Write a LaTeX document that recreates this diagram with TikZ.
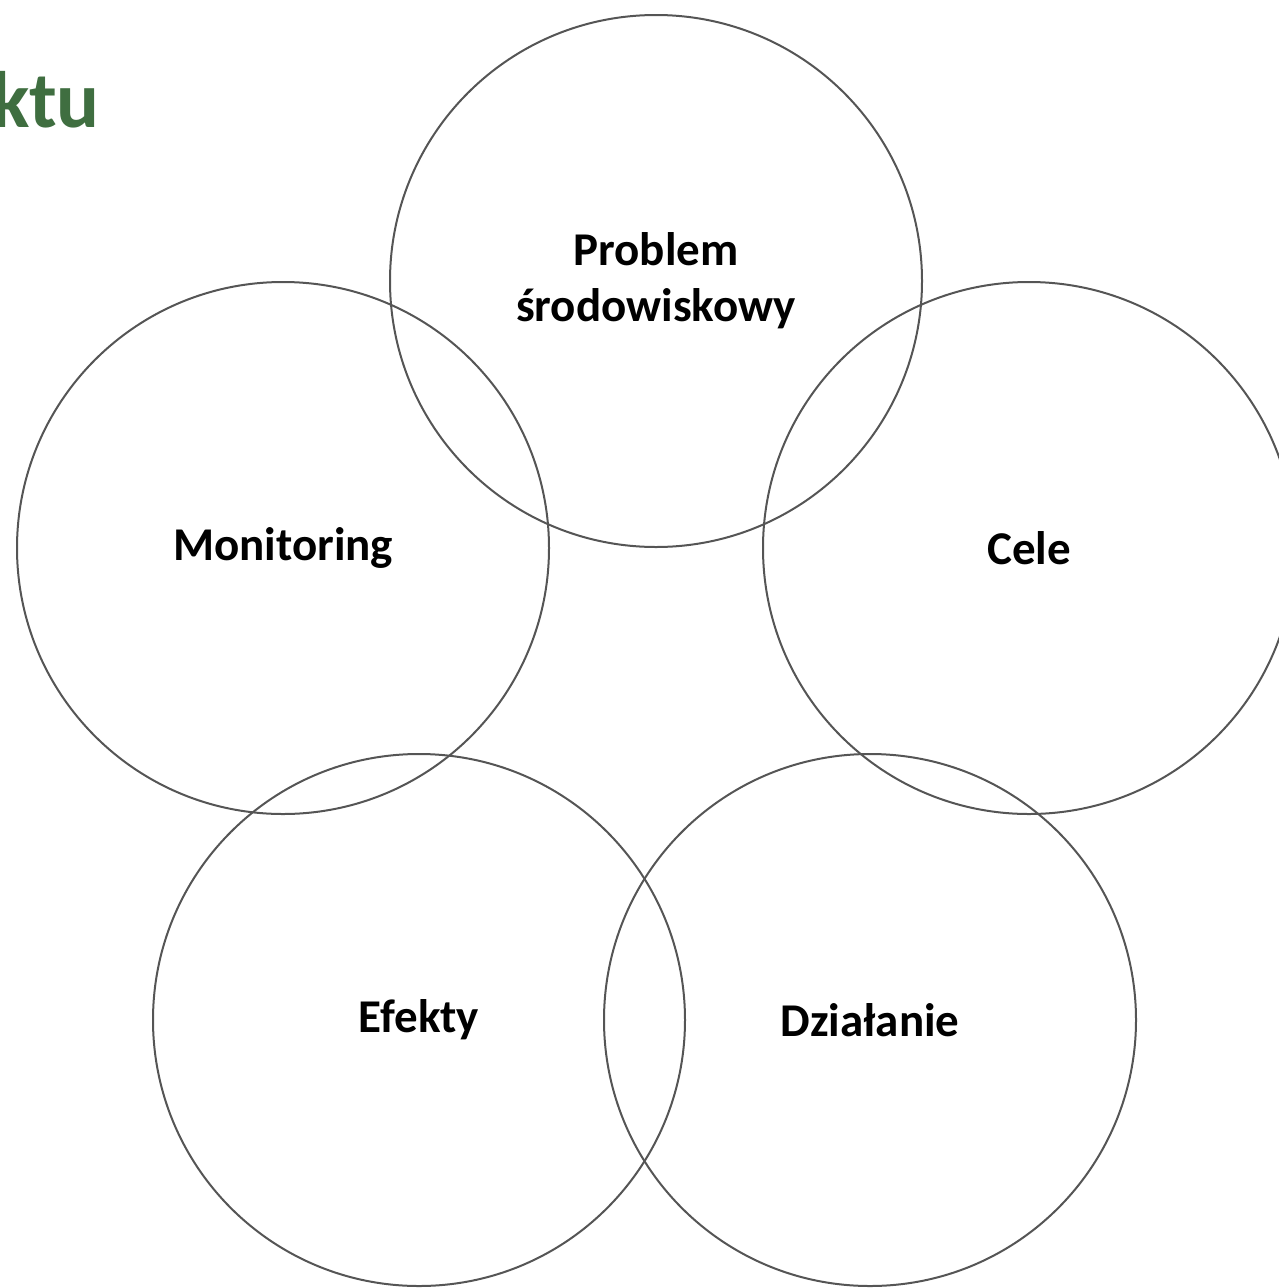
\documentclass[tikz,border=0pt]{standalone}
\usepackage{fontspec}
\setmainfont{Carlito}
\definecolor{ringgray}{HTML}{555555}
\definecolor{titlegreen}{HTML}{3F6E40}
\begin{document}
\begin{tikzpicture}[x=1pt,y=-1pt,
  ring/.style={circle,draw=ringgray,line width=2pt,minimum size=532pt,inner sep=0pt,
    font=\fontsize{47}{56}\selectfont\bfseries,align=center,text=black}]
\useasboundingbox (0,0) rectangle (1279,1288);
\node[ring] (prob) at (656,281) {Problem\\środowiskowy};
\node[ring] (mon) at (283,548) {Monitoring};
\node[ring] (cele) at (1029,548) {Cele};
\node[ring] (ef) at (419,1020) {Efekty};
\node[ring] (dz) at (870,1020) {Działanie};
\node[anchor=base east,inner sep=0pt,text=titlegreen,font=\fontsize{80}{86}\selectfont\bfseries] (title) at (100,127) {ktu};
\end{tikzpicture}
\end{document}
